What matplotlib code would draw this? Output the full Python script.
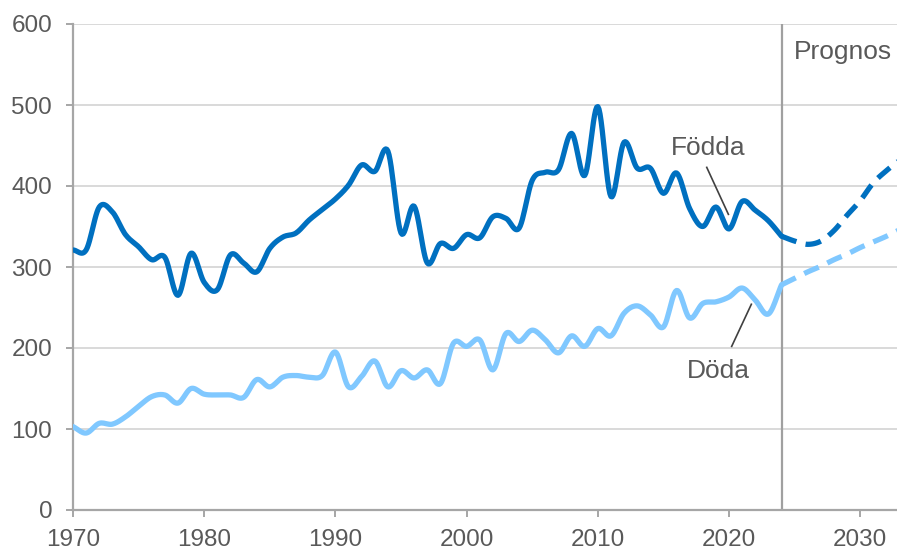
import matplotlib
matplotlib.use("Agg")
import matplotlib.pyplot as plt
import numpy as np

# Födda och döda per år, samt prognos
years = list(range(1970, 2025))
fodda = [321, 321, 374, 368, 340, 325, 309, 312, 265, 317,
         281, 272, 315, 305, 294, 323, 337, 342, 358, 371,
         384, 401, 426, 418, 443, 342, 375, 305, 329, 323,
         340, 336, 362, 360, 348, 407, 417, 420, 465, 413,
         498, 387, 454, 422, 422, 391, 416, 372, 350, 374,
         347, 381, 370, 357, 338]
doda = [103, 95, 107, 106, 115, 128, 140, 142, 132, 150,
        143, 142, 142, 139, 161, 152, 164, 166, 164, 166,
        195, 152, 165, 184, 152, 172, 163, 173, 156, 206,
        202, 210, 173, 218, 208, 222, 210, 194, 215, 202,
        224, 215, 243, 252, 241, 226, 271, 237, 255, 257,
        263, 274, 259, 242, 278]

prog_years = list(range(2024, 2034))
fodda_prog = [338, 332, 328, 332, 345, 364, 382, 404, 419, 432]
doda_prog = [278, 286, 294, 301, 309, 316, 324, 331, 338, 346]

yticks = [0, 100, 200, 300, 400, 500, 600]
xticks = [1970, 1980, 1990, 2000, 2010, 2020, 2030]

plt.rcParams['font.family'] = ['Liberation Sans', 'DejaVu Sans']

DARK = '#0070C0'
LIGHT = '#80C8FF'
GRID = '#D9D9D9'
AXC = '#A6A6A6'
TXT = '#595959'


# Utjämnad linje (Catmull-Rom), ungefär som Excel gör
def smooth(x, y, n=12):
    x = np.asarray(x, float)
    y = np.asarray(y, float)
    xp = np.concatenate(([2 * x[0] - x[1]], x, [2 * x[-1] - x[-2]]))
    yp = np.concatenate(([2 * y[0] - y[1]], y, [2 * y[-1] - y[-2]]))
    t = np.linspace(0, 1, n, endpoint=False)
    xs, ys = [], []
    for i in range(1, len(xp) - 2):
        for arr, out in ((xp, xs), (yp, ys)):
            p0, p1, p2, p3 = arr[i - 1], arr[i], arr[i + 1], arr[i + 2]
            out.extend(0.5 * (2 * p1 + (-p0 + p2) * t
                              + (2 * p0 - 5 * p1 + 4 * p2 - p3) * t ** 2
                              + (-p0 + 3 * p1 - 3 * p2 + p3) * t ** 3))
    xs.append(x[-1])
    ys.append(y[-1])
    return np.array(xs), np.array(ys)


fig = plt.figure(figsize=(8.97, 5.52), dpi=100)
ax = fig.add_axes([73 / 897, 42 / 552, 824 / 897, 486 / 552])

lw = 3.8
ax.plot(*smooth(years, doda), color=LIGHT, lw=lw, solid_capstyle='round', zorder=3)
ax.plot(*smooth(years, fodda), color=DARK, lw=lw, solid_capstyle='round', zorder=3)
ax.plot(*smooth(prog_years, doda_prog), color=LIGHT, lw=lw,
        linestyle=(0, (3, 1.8)), zorder=3)
ax.plot(*smooth(prog_years, fodda_prog), color=DARK, lw=lw,
        linestyle=(0, (3, 1.8)), zorder=3)

# Prognoslinje
ax.axvline(2024, color='#A0A0A0', lw=1.6, zorder=2)
ax.text(2024.95, 566, 'Prognos', fontsize=19, color=TXT, va='center', ha='left')

# Etiketter med hänvisningslinjer
ax.text(2018.4, 447, 'Födda', fontsize=19, color=TXT, ha='center', va='center')
ax.plot([2018.3, 2019.95], [423, 365], color='#404040', lw=1.2, zorder=4)
ax.text(2019.2, 171, 'Döda', fontsize=19, color=TXT, ha='center', va='center')
ax.plot([2020.2, 2021.7], [202, 254], color='#404040', lw=1.2, zorder=4)

ax.set_xlim(1970, 2032.8)
ax.set_ylim(0, 600)
ax.set_xticks(xticks)
ax.set_yticks(yticks)
ax.yaxis.grid(True, color=GRID, lw=1.4)
ax.set_axisbelow(True)

for s in ['top', 'right']:
    ax.spines[s].set_visible(False)
for s in ['left', 'bottom']:
    ax.spines[s].set_color(AXC)
    ax.spines[s].set_linewidth(1.6)

ax.tick_params(axis='both', colors=AXC, labelcolor=TXT, labelsize=17.5,
               length=5, width=1.4)
ax.tick_params(axis='x', pad=9)
ax.tick_params(axis='y', pad=10)

fig.savefig('out.png', dpi=100)
